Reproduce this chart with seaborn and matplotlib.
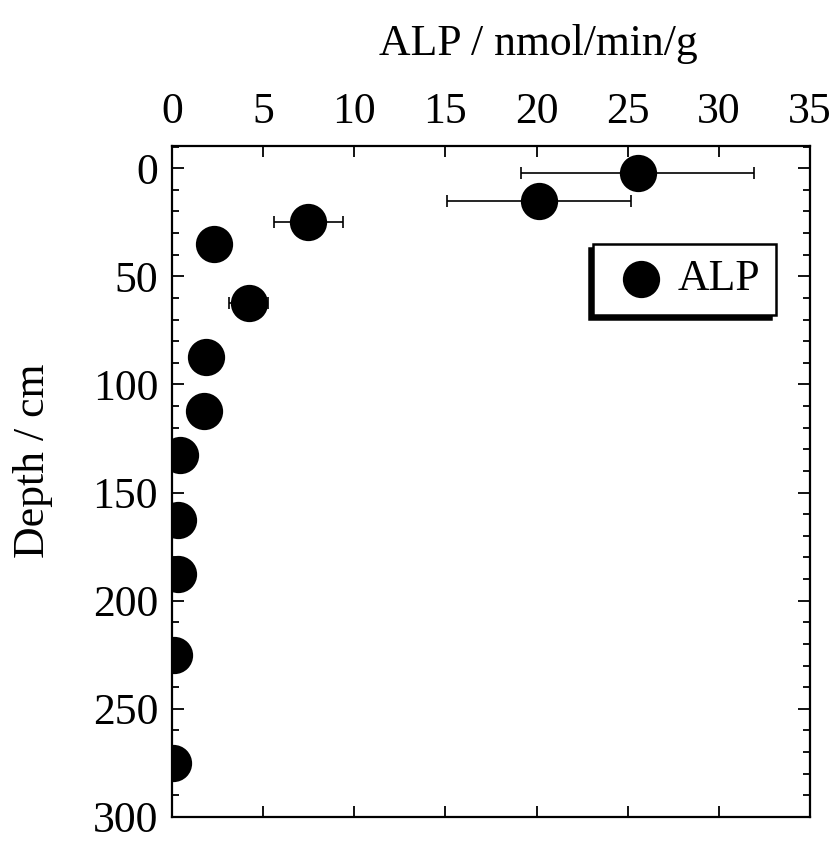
import matplotlib
matplotlib.use("Agg")
import matplotlib.pyplot as plt
from matplotlib.ticker import MultipleLocator
import seaborn as sns
import pandas as pd

# Data
depth = [2, 15, 25, 35, 62.5, 87.5, 112.5, 132.5, 162.5, 187.5, 225, 275]
alp = [25.55, 20.13, 7.48, 2.3, 4.2, 1.87, 1.77, 0.44, 0.35, 0.35, 0.13, 0.03]
alp_err = [6.4, 5.07, 1.9, 0.0, 1.08, 0.0, 0.0, 0.0, 0.0, 0.0, 0.0, 0.0]
x_ticks = [0, 5, 10, 15, 20, 25, 30, 35]
y_ticks = [0, 50, 100, 150, 200, 250, 300]

df = pd.DataFrame({"depth": depth, "ALP": alp, "err": alp_err})

sns.set_style("ticks")
plt.rcParams["font.family"] = ["Liberation Serif", "DejaVu Serif"]
plt.rcParams["text.color"] = "black"
plt.rcParams["axes.labelcolor"] = "black"
plt.rcParams["xtick.color"] = "black"
plt.rcParams["ytick.color"] = "black"

fig = plt.figure(figsize=(8.34, 8.43), dpi=100)
ax = fig.add_axes([172 / 834, 1 - 817 / 843, (810 - 172) / 834, (817 - 145.7) / 843])

ax.errorbar(df["ALP"], df["depth"], xerr=df["err"], fmt="none",
            ecolor="black", elinewidth=1.2, capsize=4, capthick=1.2, zorder=2)
sns.scatterplot(data=df, x="ALP", y="depth", ax=ax, color="black", s=720,
                edgecolor="black", linewidth=0, label="ALP", zorder=3, legend=True)

ax.set_xlim(0, 35)
ax.set_ylim(300, -10.4)
ax.set_xticks(x_ticks)
ax.set_yticks(y_ticks)
ax.yaxis.set_minor_locator(MultipleLocator(10))

for sp in ax.spines.values():
    sp.set_visible(True)
    sp.set_linewidth(1.6)
    sp.set_color("black")

ax.xaxis.tick_top()
ax.tick_params(axis="x", which="major", direction="in", length=8, width=1.3,
               top=True, bottom=True, labeltop=True, labelbottom=False,
               labelsize=31.5, pad=10, labelcolor="black")
ax.tick_params(axis="y", which="major", direction="in", length=8.5, width=1.3,
               left=True, right=True, labelleft=True, labelright=False,
               labelsize=31.5, pad=10, labelcolor="black")
ax.tick_params(axis="y", which="minor", direction="in", length=5, width=1.3,
               left=True, right=True)

ax.set_xlabel("ALP / nmol/min/g", fontsize=31.5, color="black")
ax.xaxis.set_label_position("top")
ax.xaxis.set_label_coords(0.575, 1.135)
ax.set_ylabel("Depth / cm", fontsize=31.5, color="black")
ax.yaxis.set_label_coords(-0.187, 0.53)

leg = ax.legend(loc="center", bbox_to_anchor=(0.803, 0.801), fontsize=31.5,
                frameon=True, fancybox=False, markerscale=1.0,
                handletextpad=0.08, borderpad=0.35, handlelength=1.5,
                shadow={"ox": -3.2, "oy": -3.2, "facecolor": "black",
                        "edgecolor": "black", "alpha": 1})
leg.get_frame().set_edgecolor("black")
leg.get_frame().set_linewidth(1.8)
leg.get_frame().set_facecolor("white")
leg.get_frame().set_alpha(1)
for t in leg.get_texts():
    t.set_color("black")

fig.savefig("out.png", dpi=100)
